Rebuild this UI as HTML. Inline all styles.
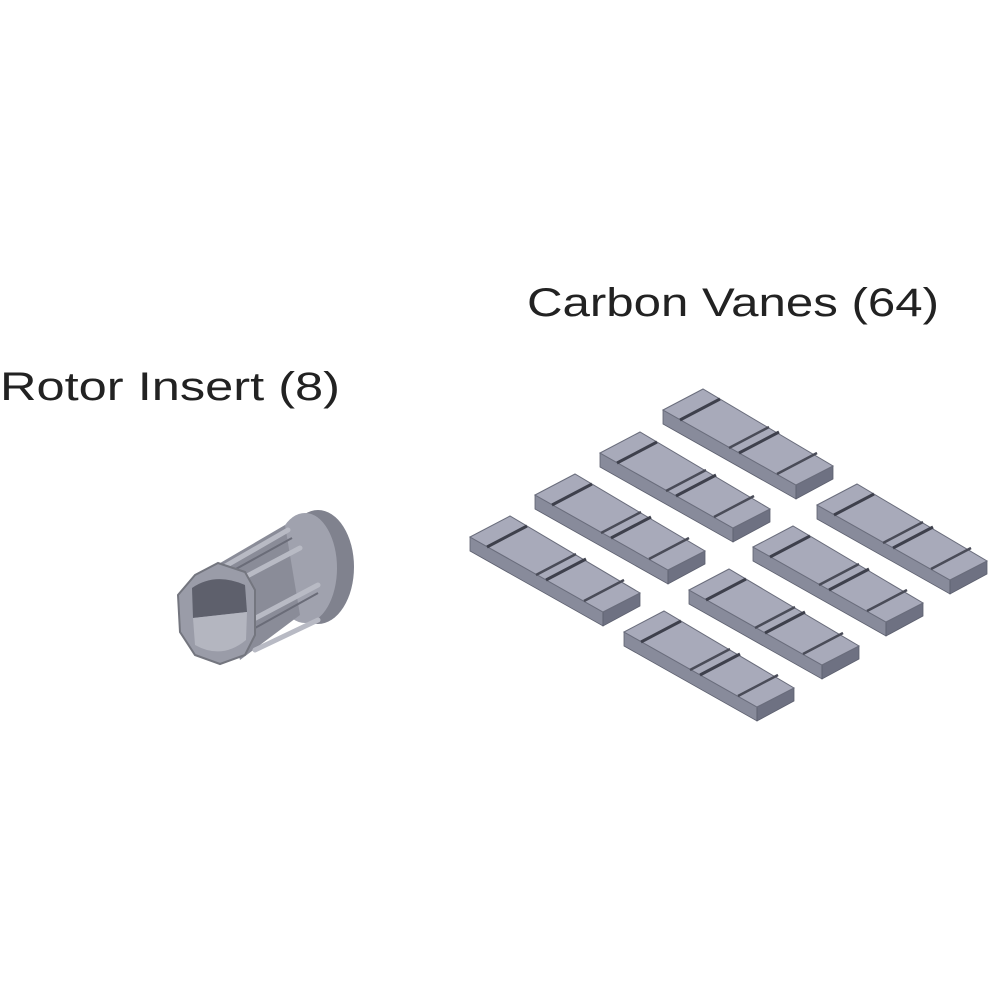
<!DOCTYPE html>
<html><head><style>
body{margin:0;width:1000px;height:1000px;background:#fff;overflow:hidden}
</style></head><body>
<svg width="1000" height="1000" viewBox="0 0 1000 1000" xmlns="http://www.w3.org/2000/svg">
<defs>
<g id="vane">
  <polygon points="0,0 0,14 133,89 133,75" fill="#888b9b" stroke="#5c5f6e" stroke-width="0.8"/>
  <polygon points="133,75 170,56 170,69 133,89" fill="#6e7182" stroke="#5c5f6e" stroke-width="0.8"/>
  <polygon points="0,0 40,-21 170,56 133,75" fill="#a8aaba" stroke="#6a6d7c" stroke-width="1"/>
  <line x1="17" y1="10" x2="57" y2="-11" stroke="#3e404c" stroke-width="3"/>
  <line x1="66" y1="38" x2="106" y2="17" stroke="#4a4c58" stroke-width="2.5"/>
  <line x1="76" y1="43" x2="116" y2="22" stroke="#3e404c" stroke-width="3"/>
  <line x1="114" y1="64" x2="154" y2="43" stroke="#4a4c58" stroke-width="2.5"/>
</g>
</defs>
<text x="0" y="400" font-family="Liberation Sans, sans-serif" font-size="40" fill="#222" textLength="340" lengthAdjust="spacingAndGlyphs">Rotor Insert (8)</text>
<text x="527" y="316" font-family="Liberation Sans, sans-serif" font-size="40" fill="#222" textLength="412" lengthAdjust="spacingAndGlyphs">Carbon Vanes (64)</text>
<use href="#vane" transform="translate(663,410)"/>
<use href="#vane" transform="translate(600,453)"/>
<use href="#vane" transform="translate(535,495)"/>
<use href="#vane" transform="translate(470,537)"/>
<use href="#vane" transform="translate(817,505)"/>
<use href="#vane" transform="translate(753,547)"/>
<use href="#vane" transform="translate(689,590)"/>
<use href="#vane" transform="translate(624,632)"/>
<!-- rotor -->
<ellipse cx="318" cy="567" rx="36" ry="57" fill="#80828e"/>
<ellipse cx="305" cy="568" rx="32" ry="55" fill="#a0a2ae"/>
<polygon points="215,566 285,525 300,615 240,660" fill="#8a8c98"/>
<g stroke="#b8bac4" stroke-width="5" stroke-linecap="round">
<line x1="222" y1="568" x2="288" y2="530"/>
<line x1="232" y1="584" x2="300" y2="548"/>
<line x1="252" y1="620" x2="318" y2="585"/>
<line x1="255" y1="650" x2="318" y2="620"/>
</g>
<g stroke="#6a6c78" stroke-width="2">
<line x1="225" y1="575" x2="292" y2="538"/>
<line x1="255" y1="628" x2="318" y2="593"/>
</g>
<polygon points="195,575 218,563 245,572 255,590 255,635 245,655 220,664 195,655 180,632 178,595" fill="#9a9ca8" stroke="#74767f" stroke-width="2"/>
<path d="M192,588 Q215,572 245,585 L247,612 L193,618 Z" fill="#5e606c"/>
<path d="M193,618 L247,612 L246,640 Q222,660 195,645 Z" fill="#b4b6c0"/>
</svg>
</body></html>
